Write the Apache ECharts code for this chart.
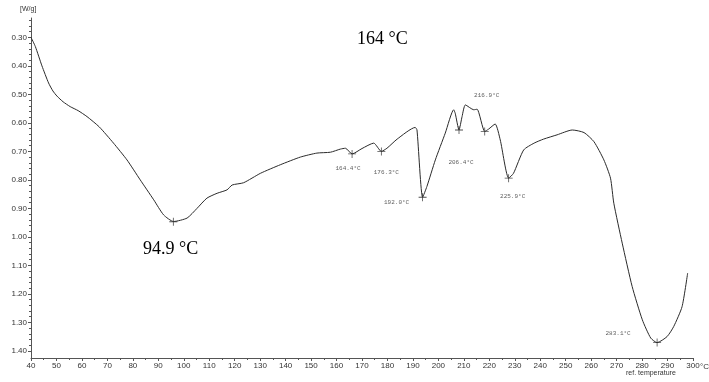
<!DOCTYPE html>
<html><head><meta charset="utf-8">
<script src="https://cdn.jsdelivr.net/npm/echarts@6/dist/echarts.min.js"></script>
<style>html,body{margin:0;padding:0;background:#fff}#c{width:709px;height:382px}</style>
</head><body><div id="c"></div>
<script>
// DSC curve: temperature (°C) and heat flow (W/g)
const temps = [40.0,41.7,44.3,46.9,48.6,50.2,52.6,55.4,58.5,62.0,66.8,72.4,77.7,82.9,88.2,92.1,96.0,101.3,105.2,109.1,113.1,117.0,119.0,123.5,130.1,137.9,145.8,152.3,157.6,161.5,163.5,166.1,170.0,174.6,177.6,179.8,183.8,190.9,191.6,193.8,195.5,198.8,202.7,206.0,206.6,208.1,209.3,210.6,213.9,215.2,218.2,219.7,222.3,224.3,227.6,229.5,233.5,237.6,241.3,246.6,252.6,257.2,261.1,265.0,267.6,268.9,272.2,276.1,280.1,283.4,285.9,289.8,292.4,295.7,297.9];
const heatFlow = [0.300,0.332,0.400,0.460,0.488,0.506,0.526,0.543,0.557,0.578,0.614,0.671,0.730,0.800,0.870,0.923,0.946,0.934,0.900,0.864,0.847,0.835,0.818,0.810,0.777,0.747,0.720,0.706,0.703,0.692,0.689,0.709,0.690,0.671,0.700,0.689,0.657,0.616,0.625,0.861,0.823,0.730,0.636,0.554,0.566,0.625,0.578,0.537,0.554,0.552,0.630,0.622,0.604,0.660,0.794,0.777,0.695,0.671,0.657,0.642,0.625,0.634,0.666,0.730,0.794,0.882,1.022,1.174,1.291,1.355,1.371,1.350,1.315,1.245,1.127];
// Peak markers
const peakTemps = [95.9,166.1,177.6,193.8,208.1,218.2,227.6,285.9];
const peakValues = [0.947,0.709,0.700,0.861,0.625,0.630,0.794,1.371];
const peakLabels = ['','164.4°C','176.3°C','192.0°C','206.4°C','216.9°C','225.9°C','283.1°C'];
const peakLabelOffsets = [[0,0],[-4,14],[5,21],[-26,5],[2,32],[2,-36],[4,18],[-39,-9]];
// Tick labels
const xTicks = [40,50,60,70,80,90,100,110,120,130,140,150,160,170,180,190,200,210,220,230,240,250,260,270,280,290,300];
const yTicks = [0.3,0.4,0.5,0.6,0.7,0.8,0.9,1.0,1.1,1.2,1.3,1.4];
const yMinorTicks = [];
for (let i = 0; i < yTicks.length; i++) for (let k = 1; k < 5; k++) yMinorTicks.push(+(yTicks[i] - 0.1 + k * 0.02).toFixed(2));
const xMinorTicks = xTicks.slice(0, -1).map(v => v + 5);

const chart = echarts.init(document.getElementById('c'));
const labelFont = {fontFamily: '"Liberation Sans Narrow","Liberation Sans",Arial,sans-serif', fontSize: 8, color: '#333'};
const axisCol = '#555';
chart.setOption({
  animation: false,
  grid: {left: 31, right: 16, top: 18, bottom: 24, containLabel: false},
  xAxis: [{
    type: 'value', min: 40, max: 300,
    axisLine: {lineStyle: {color: axisCol, width: 1}},
    axisTick: {customValues: xTicks, length: 3, inside: false, lineStyle: {color: axisCol}},
    axisLabel: Object.assign({customValues: xTicks, margin: 4, formatter: v => String(v)}, labelFont),
    splitLine: {show: false}
  }, {
    type: 'value', min: 40, max: 300, position: 'bottom',
    axisLine: {show: false},
    axisTick: {customValues: xMinorTicks, length: 2, lineStyle: {color: axisCol}},
    axisLabel: {show: false}, splitLine: {show: false}
  }],
  yAxis: [{
    type: 'value', inverse: true, min: 0.232, max: 1.425,
    axisLine: {show: true, lineStyle: {color: axisCol, width: 1}},
    axisTick: {show: true, customValues: yTicks, length: 3, lineStyle: {color: axisCol}},
    axisLabel: Object.assign({customValues: yTicks, margin: 4, formatter: v => v.toFixed(2)}, labelFont),
    splitLine: {show: false}
  }, {
    type: 'value', inverse: true, min: 0.232, max: 1.425, position: 'left',
    axisLine: {show: false},
    axisTick: {show: true, customValues: yMinorTicks, length: 2, lineStyle: {color: axisCol}},
    axisLabel: {show: false}, splitLine: {show: false}
  }],
  series: [{
    type: 'line', xAxisIndex: 0, yAxisIndex: 0,
    data: temps.map((t, i) => [t, heatFlow[i]]),
    showSymbol: false, smooth: 0.2,
    lineStyle: {color: '#2a2a2a', width: 1}
  }, {
    type: 'scatter', xAxisIndex: 0, yAxisIndex: 0,
    symbol: 'path://M0,4.5h10v1h-10zM4.5,0h1v10h-1z', symbolSize: 8,
    itemStyle: {color: '#222'},
    data: peakTemps.map((t, i) => ({
      value: [t, peakValues[i]],
      label: {show: !!peakLabels[i], position: 'inside', offset: peakLabelOffsets[i], formatter: peakLabels[i],
        fontFamily: '"Liberation Mono","DejaVu Sans Mono",monospace', fontSize: 6, color: '#333'}
    }))
  }],
  graphic: [
    {type: 'text', left: 20, top: 6, style: {text: '[W/g]', font: '7px "Liberation Sans Narrow","Liberation Sans",sans-serif', fill: '#333'}},
    {type: 'text', left: 700, top: 363, style: {text: '°C', font: '8px "Liberation Sans",sans-serif', fill: '#333'}},
    {type: 'text', left: 626, top: 370, style: {text: 'ref. temperature', font: '7px "Liberation Sans Narrow","Liberation Sans",sans-serif', fill: '#333'}},
    {type: 'text', left: 357, top: 30, style: {text: '164 °C', font: '18px "Liberation Serif","Times New Roman",serif', fill: '#000'}},
    {type: 'text', left: 143, top: 240, style: {text: '94.9 °C', font: '18px "Liberation Serif","Times New Roman",serif', fill: '#000'}}
  ]
});
</script></body></html>
